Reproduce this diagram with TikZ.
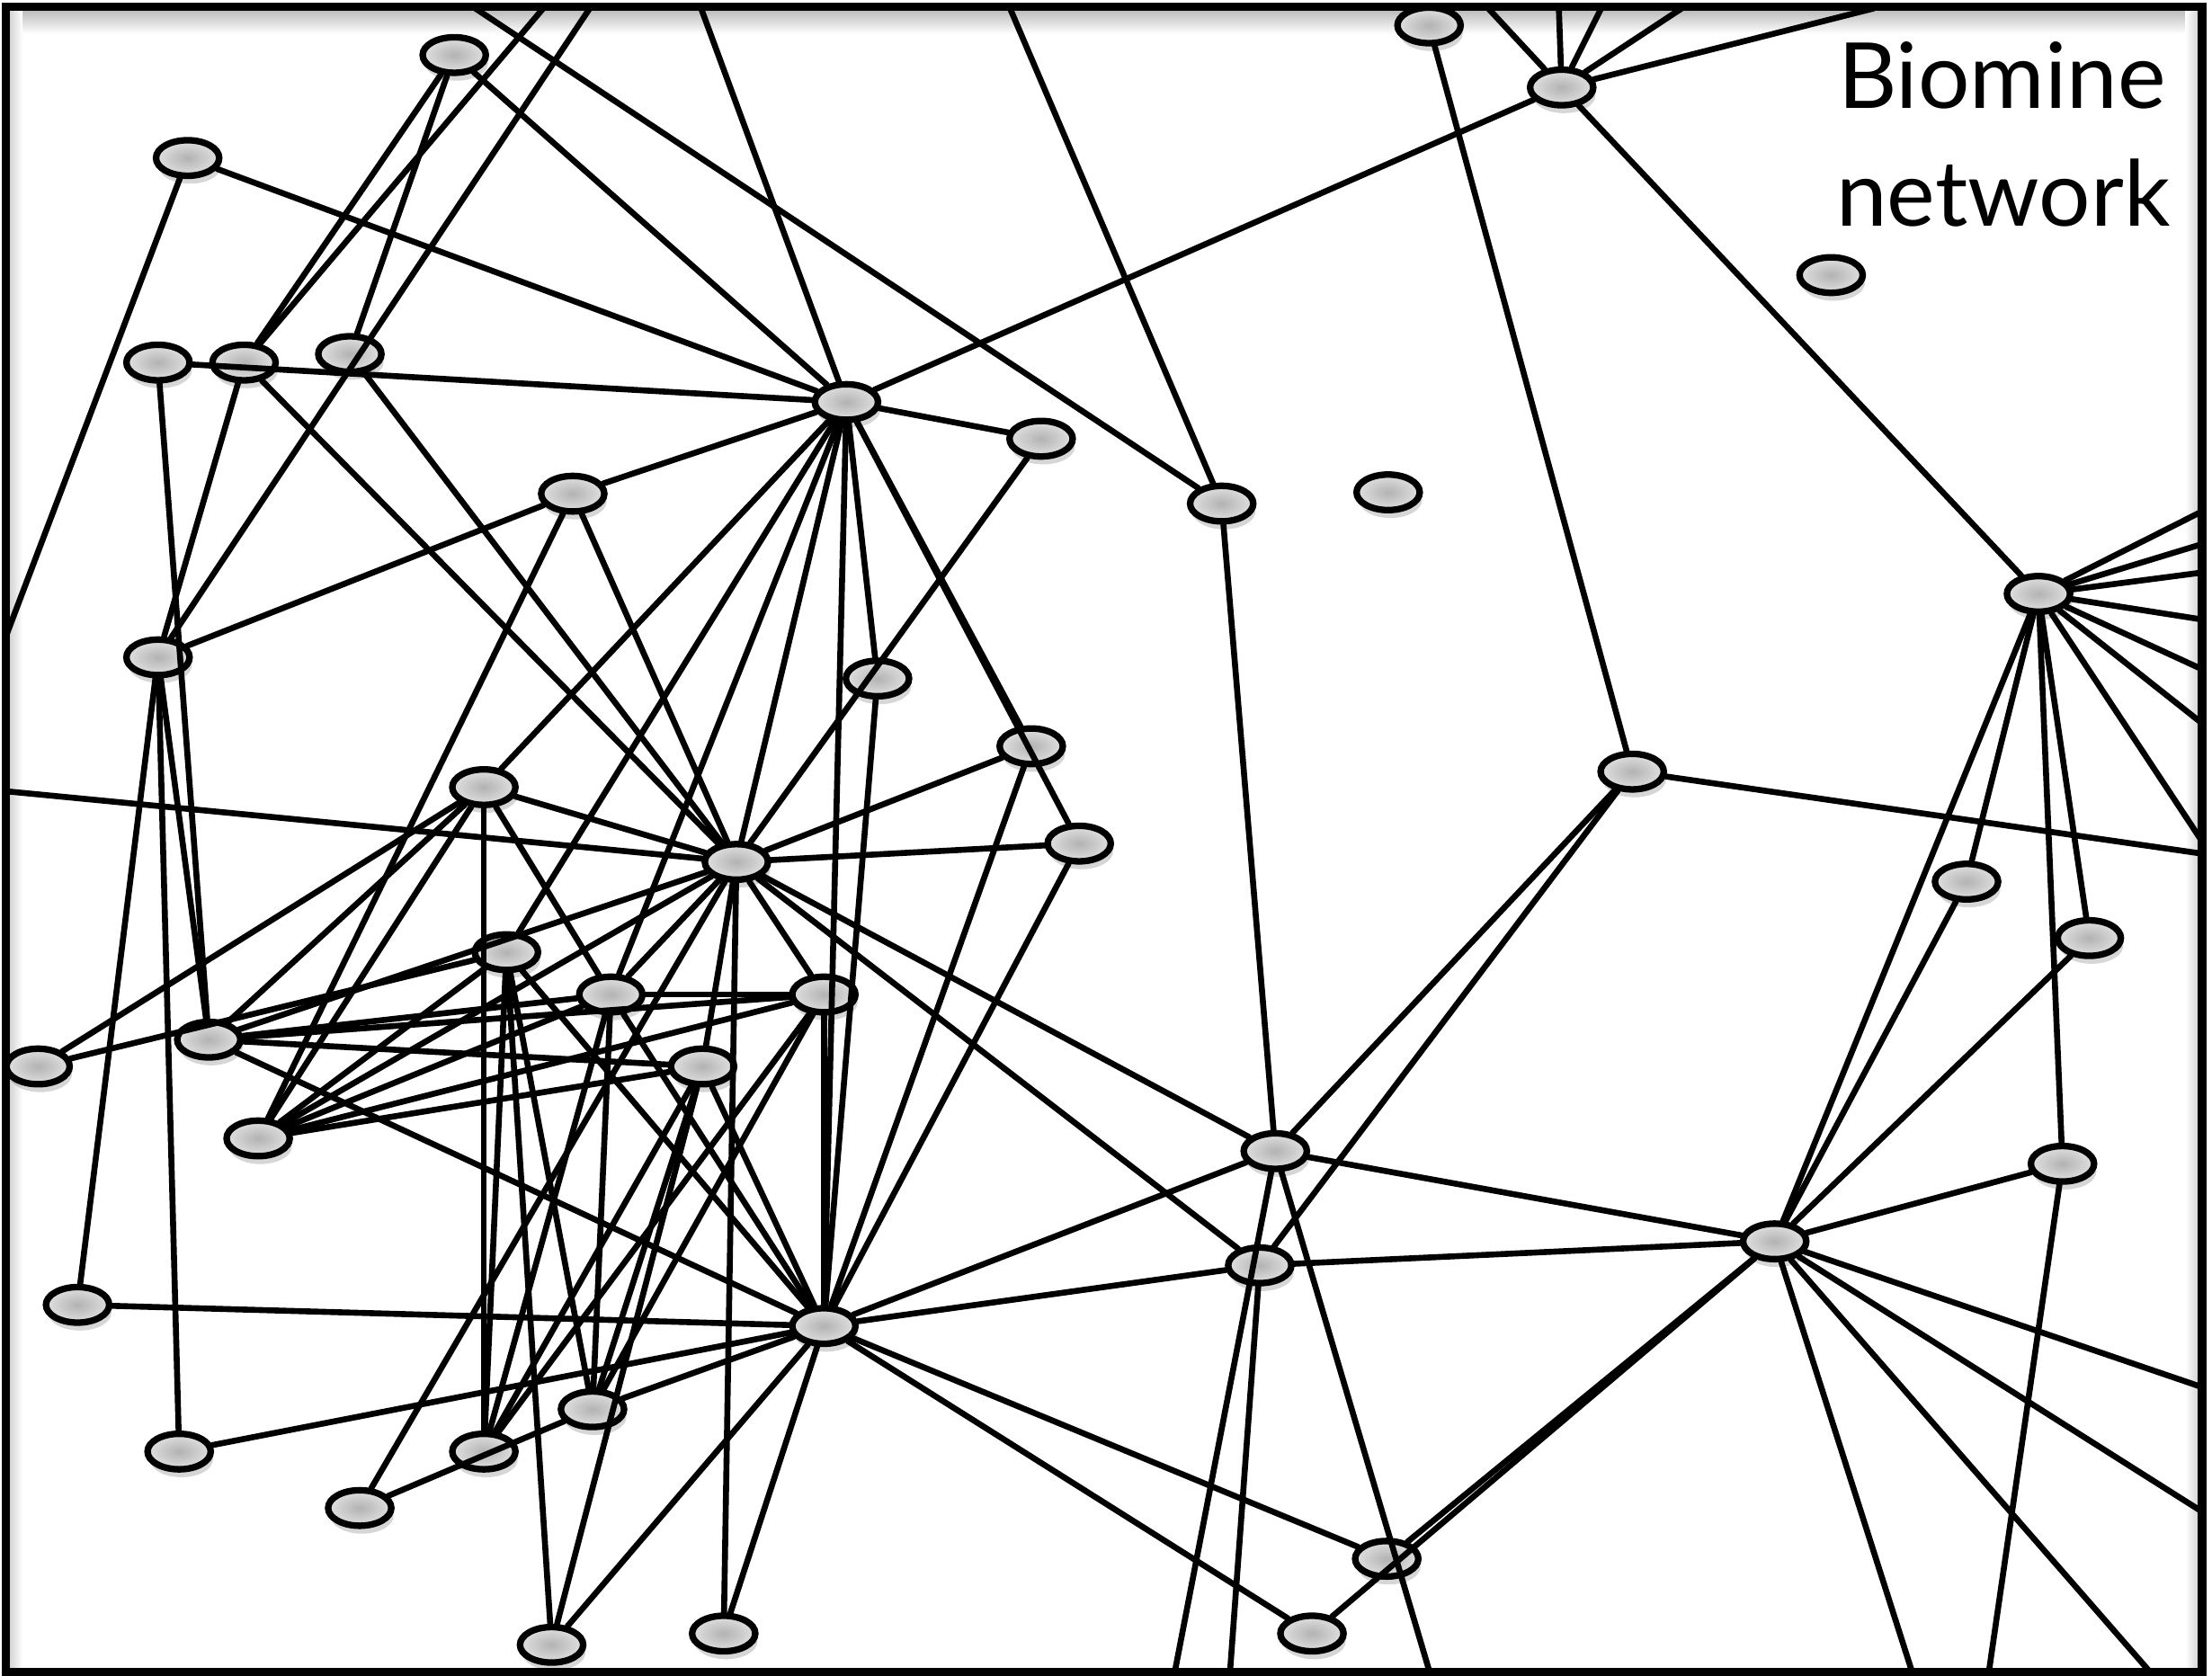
\documentclass[tikz,border=0pt]{standalone}
\usepackage{fontspec}
\setmainfont{Lato}
\usetikzlibrary{shapes.geometric,shadows}
\begin{document}
\begin{tikzpicture}[x=0.25mm,y=-0.25mm,
  nd/.style={ellipse,draw=black,line width=3.3pt,minimum width=11.2mm,minimum height=6.3mm,inner sep=0pt,
    inner color=black!30,outer color=black!12,
    drop shadow={shadow xshift=0.4mm,shadow yshift=-1.4mm,opacity=0.16,fill=black}},
  ed/.style={line width=3pt,line cap=round},
  frm/.style={line width=4.2pt},
  lbl/.style={font=\fontsize{46}{50}\selectfont,anchor=base,inner sep=0pt}]
\useasboundingbox (0,0) rectangle (1568,1188);
\fill[white] (0,0) rectangle (1568,1188);
% soft shadow inside the frame
\shade[top color=black!30,bottom color=white] (4,5) rectangle (1561,24);
\shade[left color=black!22,right color=white] (4,5) rectangle (16,1185);
\shade[left color=white,right color=black!22] (1549,5) rectangle (1561,1185);
% nodes
\node[nd] (A) at (1013,18) {};
\node[nd] (B) at (1107,62) {};
\node[nd] (C) at (1298,195) {};
\node[nd] (D) at (322,39) {};
\node[nd] (E) at (133,112) {};
\node[nd] (F) at (112,257) {};
\node[nd] (G) at (173,257) {};
\node[nd] (H) at (248,251) {};
\node[nd] (I) at (600,285) {};
\node[nd] (J) at (738,311) {};
\node[nd] (K) at (866,357) {};
\node[nd] (L) at (984,349) {};
\node[nd] (M) at (406,350) {};
\node[nd] (N) at (112,466) {};
\node[nd] (O) at (622,481) {};
\node[nd] (P) at (731,529) {};
\node[nd] (Q) at (1445,421) {};
\node[nd] (R) at (1157,547) {};
\node[nd] (S) at (343,558) {};
\node[nd] (T) at (522,611) {};
\node[nd] (U) at (765,598) {};
\node[nd] (V) at (1394,625) {};
\node[nd] (W) at (1481,665) {};
\node[nd] (X) at (359,675) {};
\node[nd] (Y) at (433,705) {};
\node[nd] (Z) at (584,705) {};
\node[nd] (AA) at (27,756) {};
\node[nd] (AB) at (148,737) {};
\node[nd] (AC) at (498,756) {};
\node[nd] (AD) at (183,807) {};
\node[nd] (AE) at (904,816) {};
\node[nd] (AF) at (1462,825) {};
\node[nd] (AG) at (893,897) {};
\node[nd] (AH) at (1258,880) {};
\node[nd] (AI) at (55,925) {};
\node[nd] (AJ) at (584,940) {};
\node[nd] (AK) at (127,1029) {};
\node[nd] (AL) at (343,1029) {};
\node[nd] (AM) at (420,999) {};
\node[nd] (AN) at (255,1069) {};
\node[nd] (AO) at (983,1105) {};
\node[nd] (AP) at (930,1158) {};
\node[nd] (AQ) at (391,1166) {};
\node[nd] (AR) at (513,1158) {};
% free ends on the frame
\coordinate (tK1) at (337,6);
\coordinate (tG) at (385,6);
\coordinate (tN) at (418,6);
\coordinate (tI) at (497,6);
\coordinate (tK2) at (716,6);
\coordinate (tB1) at (1055,6);
\coordinate (tB2) at (1105,6);
\coordinate (tB3) at (1135,6);
\coordinate (tB4) at (1192,6);
\coordinate (tB5) at (1328,6);
\coordinate (lE) at (5,449);
\coordinate (lT) at (5,561);
\coordinate (rQ1) at (1560,363);
\coordinate (rQ2) at (1560,386);
\coordinate (rQ3) at (1560,406);
\coordinate (rQ4) at (1560,439);
\coordinate (rQ5) at (1560,474);
\coordinate (rQ6) at (1560,512);
\coordinate (rQ7) at (1560,595);
\coordinate (rR) at (1560,605);
\coordinate (rAH1) at (1560,983);
\coordinate (rAH2) at (1560,1071);
\coordinate (bAE1) at (833,1184);
\coordinate (bAG) at (872,1184);
\coordinate (bAE2) at (1013,1184);
\coordinate (bAH1) at (1355,1184);
\coordinate (bAF) at (1410,1184);
\coordinate (bAH2) at (1523,1184);
% edges
\foreach \a/\b in {tK1/K,tG/G,tN/N,tI/I,tK2/K,tB1/B,tB2/B,tB3/B,tB4/B,tB5/B,
  D/G,D/H,D/I,E/I,E/lE,F/I,F/AB,G/N,G/T,H/T,M/N,M/I,M/T,M/AD,
  I/J,I/B,I/S,I/X,I/Y,I/T,I/AJ,I/O,I/P,I/U,J/T,K/AE,A/R,B/Q,
  N/AB,N/AI,N/AK,lT/T,S/T,S/AL,S/Y,AA/S,AB/S,AD/S,
  T/P,T/U,T/AE,T/AG,T/Z,T/AR,T/AC,AB/T,AD/T,AN/T,Y/T,
  O/AJ,P/AJ,U/AJ,AD/X,X/AJ,X/AL,X/AQ,X/AM,AA/X,
  AB/Y,AD/Y,Y/AJ,Y/AL,Y/AM,Y/Z,Z/AJ,AB/Z,AD/Z,AL/Z,AM/Z,
  AB/AC,AD/AC,AC/AJ,AL/AC,AM/AC,AQ/AC,AB/AJ,AI/AJ,AK/AJ,AN/AM,AM/AJ,AQ/AJ,AJ/AR,
  AJ/AE,AJ/AG,AJ/AO,AJ/AP,R/AE,R/AG,R/rR,AE/AH,AE/bAE1,AE/bAE2,AG/AH,AG/bAG,
  Q/rQ1,Q/rQ2,Q/rQ3,Q/rQ4,Q/rQ5,Q/rQ6,Q/rQ7,Q/V,Q/W,Q/AH,Q/AF,V/AH,W/AH,
  AH/AF,AH/AO,AH/AP,AH/bAH1,AH/bAH2,AH/rAH1,AH/rAH2,AF/bAF}
  \draw[ed] (\a) -- (\b);
% label
\node[lbl] (t1) at (1419,77) {Biomine};
\node[lbl] (t2) at (1420,160) {network};
% frame
\draw[frm] (4,5) rectangle (1561,1185);
\end{tikzpicture}
\end{document}
